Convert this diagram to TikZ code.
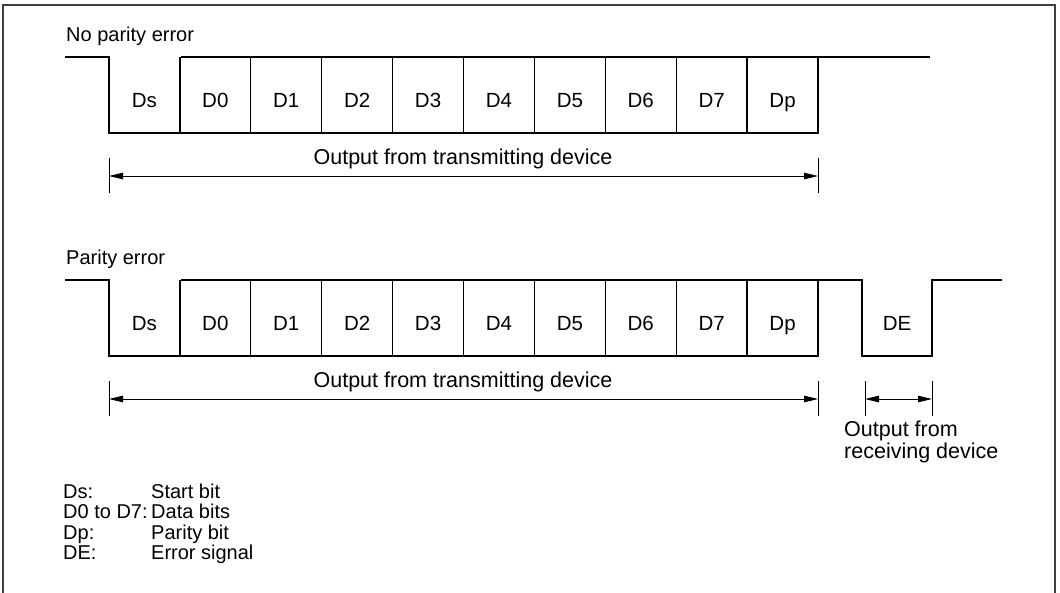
\documentclass[tikz,border=0pt]{standalone}
\usepackage{fontspec}
\setmainfont{Liberation Sans}
\usetikzlibrary{arrows.meta}
\begin{document}
\begin{tikzpicture}[x=1pt,y=-1pt,
  wave/.style={line width=1.3pt, line join=miter},
  tick/.style={line width=1pt},
  dim/.style={line width=1pt, {Triangle[length=14pt,width=6.5pt]}-{Triangle[length=14pt,width=6.5pt]}},
  lbl/.style={font=\fontsize{20}{24}\selectfont, inner sep=0pt},
  bit/.style={font=\fontsize{20.5}{24}\selectfont, inner sep=0pt, anchor=base},
  big/.style={font=\fontsize{21.5}{22}\selectfont, inner sep=0pt},
  frame/.style={line width=1.6pt, black!75}]
\useasboundingbox (0,0) rectangle (1060,592);
\draw[frame] (3,593) -- (3,5) -- (1055,5) -- (1055,593);

% ---------- No parity error ----------
\node[lbl, anchor=base west] (t1) at (66,41) {No parity error};
\draw[wave] (65,57) -- (109,57) -- (109,133) -- (818,133) -- (818,57) -- (930,57);
\draw[wave] (181,57) -- (818,57);
\foreach \i in {1,...,9} \draw[wave] ({109+70.9*\i},57) -- ({109+70.9*\i},133);
\foreach \t [count=\i from 0] in {Ds,D0,D1,D2,D3,D4,D5,D6,D7,Dp}
  \node[bit] (a\i) at ({109+70.9*\i+35.45},107) {\t};
\draw[tick] (109,158) -- (109,193);
\draw[tick] (818,158) -- (818,193);
\coordinate (aL) at (109,176);
\coordinate (aR) at (818,176);
\draw[dim] (aL) -- (aR);
\node[big, anchor=base] (o1) at (463,164) {Output from transmitting device};

% ---------- Parity error ----------
\node[lbl, anchor=base west] (t2) at (66,264) {Parity error};
\draw[wave] (65,280) -- (109,280) -- (109,356) -- (818,356) -- (818,280) -- (862,280)
  -- (862,356) -- (932,356) -- (932,280) -- (1002,280);
\draw[wave] (181,280) -- (818,280);
\foreach \i in {1,...,9} \draw[wave] ({109+70.9*\i},280) -- ({109+70.9*\i},356);
\foreach \t [count=\i from 0] in {Ds,D0,D1,D2,D3,D4,D5,D6,D7,Dp}
  \node[bit] (b\i) at ({109+70.9*\i+35.45},330) {\t};
\node[bit] (bDE) at (897,330) {DE};
\draw[tick] (109,381) -- (109,416);
\draw[tick] (818,381) -- (818,416);
\draw[tick] (865,381) -- (865,416);
\draw[tick] (932,381) -- (932,416);
\coordinate (bL) at (109,399);
\coordinate (bR) at (818,399);
\coordinate (cL) at (865,399);
\coordinate (cR) at (932,399);
\draw[dim] (bL) -- (bR);
\draw[dim] (cL) -- (cR);
\node[big, anchor=base] (o2) at (463,387) {Output from transmitting device};
\node[big, anchor=base west] (o3a) at (844,436) {Output from};
\node[big, anchor=base west] (o3b) at (844,458) {receiving device};

% ---------- Legend ----------
\foreach \k/\v [count=\j from 0] in {Ds:/Start bit, D0 to D7:/Data bits, Dp:/Parity bit, DE:/Error signal}{
  \node[lbl, anchor=base west] (k\j) at (63,{498+20.5*\j}) {\k};
  \node[lbl, anchor=base west] (v\j) at (151,{498+20.5*\j}) {\v};
}
\end{tikzpicture}
\end{document}
